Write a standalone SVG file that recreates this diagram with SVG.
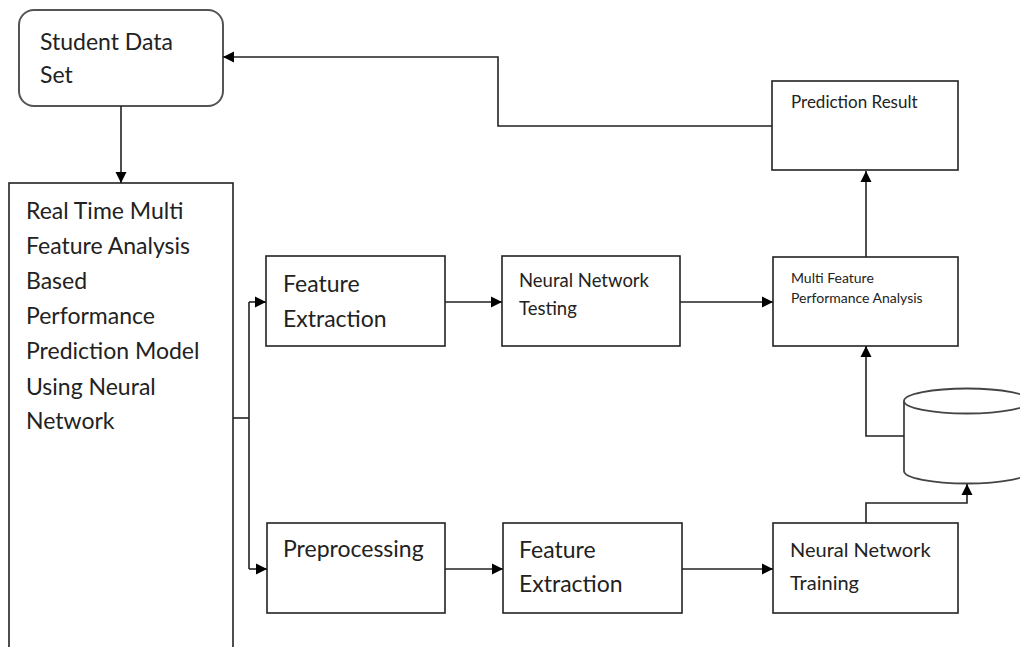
<svg xmlns="http://www.w3.org/2000/svg" width="1020" height="647" viewBox="0 0 1020 647">
<style>
  .box { fill: #fff; stroke: #222; stroke-width: 1.6; }
  .rbox { fill: #fff; stroke: #555; stroke-width: 2; }
  .conn { fill: none; stroke: #222; stroke-width: 1.6; }
  .t24 { font-family: Lato, "Liberation Sans", sans-serif; font-size: 23px; fill: #222; }
  .t20 { font-family: Lato, "Liberation Sans", sans-serif; font-size: 20px; fill: #222; }
  .t18 { font-family: Lato, "Liberation Sans", sans-serif; font-size: 18.5px; fill: #222; }
  .t16 { font-family: Lato, "Liberation Sans", sans-serif; font-size: 17px; fill: #222; }
  .t14 { font-family: Lato, "Liberation Sans", sans-serif; font-size: 14px; fill: #222; }
</style>
<defs>
  <marker id="arr" markerUnits="userSpaceOnUse" markerWidth="12" markerHeight="12" refX="11" refY="6" orient="auto">
    <path d="M0,0.5 L11,6 L0,11.5 Z" fill="#000"/>
  </marker>
</defs>
<rect width="1020" height="647" fill="#fff"/>

<g id="student-data-set">
  <rect class="rbox" x="19" y="10" width="204" height="96" rx="15"/>
  <text class="t24" x="40" y="50">Student Data</text>
  <text class="t24" x="40" y="83">Set</text>
</g>

<g id="model">
  <rect class="box" x="9" y="183" width="224" height="490"/>
  <text class="t24" x="26" y="219">Real Time Multi</text>
  <text class="t24" x="26" y="254">Feature Analysis</text>
  <text class="t24" x="26" y="289">Based</text>
  <text class="t24" x="26" y="324">Performance</text>
  <text class="t24" x="26" y="359">Prediction Model</text>
  <text class="t24" x="26" y="395">Using Neural</text>
  <text class="t24" x="26" y="429">Network</text>
</g>

<g id="feature-extraction-1">
  <rect class="box" x="266" y="256" width="179" height="90"/>
  <text class="t24" x="283" y="292">Feature</text>
  <text class="t24" x="283" y="327">Extraction</text>
</g>

<g id="nn-testing">
  <rect class="box" x="502" y="256" width="178" height="90"/>
  <text class="t18" x="519" y="287">Neural Network</text>
  <text class="t18" x="519" y="315">Testing</text>
</g>

<g id="multi-feature">
  <rect class="box" x="773" y="257" width="185" height="89"/>
  <text class="t14" x="791" y="283">Multi Feature</text>
  <text class="t14" x="791" y="303">Performance Analysis</text>
</g>

<g id="prediction-result">
  <rect class="box" x="772" y="81" width="186" height="89"/>
  <text class="t16" x="791" y="108">Prediction Result</text>
</g>

<g id="preprocessing">
  <rect class="box" x="267" y="523" width="178" height="90"/>
  <text class="t24" x="283" y="557">Preprocessing</text>
</g>

<g id="feature-extraction-2">
  <rect class="box" x="503" y="523" width="179" height="90"/>
  <text class="t24" x="519" y="558">Feature</text>
  <text class="t24" x="519" y="592">Extraction</text>
</g>

<g id="nn-training">
  <rect class="box" x="773" y="523" width="185" height="90"/>
  <text class="t20" x="790" y="557">Neural Network</text>
  <text class="t20" x="790" y="590">Training</text>
</g>

<g id="database">
  <path d="M904,401 V471 A63,12.5 0 0 0 1030,471 V401" fill="#fff" stroke="#444" stroke-width="1.8"/>
  <ellipse cx="967" cy="401" rx="63" ry="12.5" fill="#fff" stroke="#444" stroke-width="1.8"/>
</g>

<g id="connectors">
  <path class="conn" d="M121,106 V183" marker-end="url(#arr)"/>
  <path class="conn" d="M233,418 H249"/>
  <path class="conn" d="M249,302 V569"/>
  <path class="conn" d="M249,302 H266" marker-end="url(#arr)"/>
  <path class="conn" d="M249,569 H267" marker-end="url(#arr)"/>
  <path class="conn" d="M445,302 H502" marker-end="url(#arr)"/>
  <path class="conn" d="M680,302 H773" marker-end="url(#arr)"/>
  <path class="conn" d="M445,569 H503" marker-end="url(#arr)"/>
  <path class="conn" d="M682,569 H773" marker-end="url(#arr)"/>
  <path class="conn" d="M866,523 V503 H967 V484" marker-end="url(#arr)"/>
  <path class="conn" d="M904,436 H866 V346" marker-end="url(#arr)"/>
  <path class="conn" d="M866,257 V171" marker-end="url(#arr)"/>
  <path class="conn" d="M772,126 H498 V57 H223" marker-end="url(#arr)"/>
</g>
</svg>
